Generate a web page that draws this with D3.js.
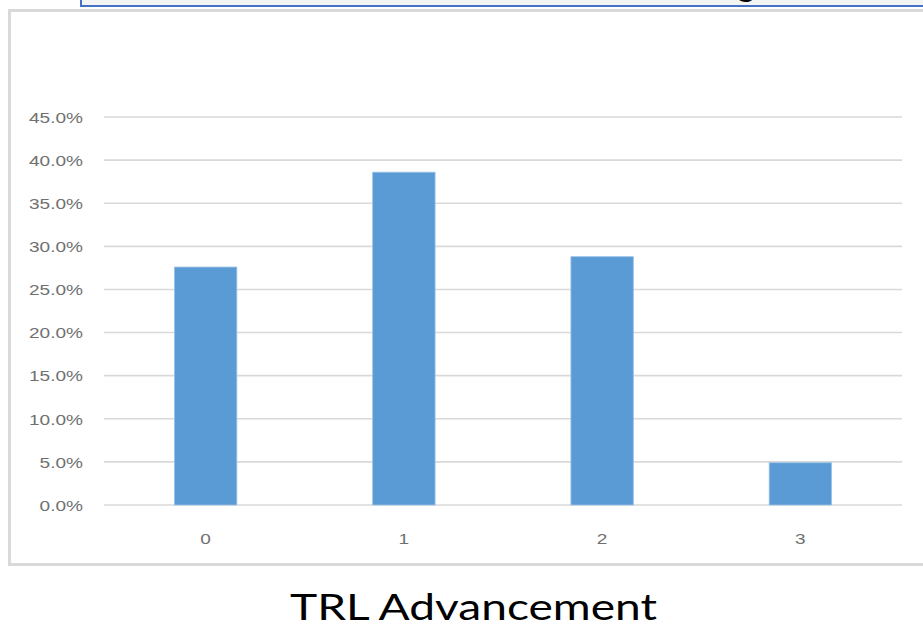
<!DOCTYPE html>
<html>
<head>
<meta charset="utf-8">
<script src="https://cdn.jsdelivr.net/npm/d3@7"></script>
<style>
  html, body { margin: 0; padding: 0; background: #ffffff; }
  svg { display: block; }
</style>
</head>
<body>
<svg id="chart" width="923" height="634"></svg>
<script>
// ---- data ----
const categories = ["0", "1", "2", "3"];
const values = [0.276, 0.386, 0.288, 0.049];
const yTicks = [0, 0.05, 0.10, 0.15, 0.20, 0.25, 0.30, 0.35, 0.40, 0.45];
const chartTitle = "TRL Advancement";

const svg = d3.select("#chart");
const stretch = 1.27;

// partially visible box at the very top
svg.append("rect")
  .attr("x", 81).attr("y", -20)
  .attr("width", 900).attr("height", 26)
  .attr("fill", "#f4f4f4")
  .attr("stroke", "#4472c4").attr("stroke-width", 2);
svg.append("text")
  .attr("x", 746).attr("y", -4)
  .attr("text-anchor", "middle")
  .attr("font-family", "Lato, 'Open Sans', sans-serif")
  .attr("font-size", 36)
  .attr("fill", "#000")
  .text("g");

// chart frame
svg.append("rect")
  .attr("x", 9.5).attr("y", 10.5)
  .attr("width", 940).attr("height", 554)
  .attr("fill", "#ffffff")
  .attr("stroke", "#d9d9d9").attr("stroke-width", 3);

const plot = { left: 104, right: 902, top: 117, bottom: 505 };

const x = d3.scaleBand()
  .domain(categories)
  .range([plot.left, plot.right])
  .paddingInner(0.685)
  .paddingOuter(0.355);

const y = d3.scaleLinear()
  .domain([0, 0.45])
  .range([plot.bottom, plot.top]);

// gridlines
svg.append("g")
  .selectAll("line")
  .data(yTicks)
  .join("line")
  .attr("x1", plot.left).attr("x2", plot.right)
  .attr("y1", d => y(d)).attr("y2", d => y(d))
  .attr("stroke", "#d9d9d9").attr("stroke-width", 1.6);

// bars
svg.append("g")
  .selectAll("rect")
  .data(values)
  .join("rect")
  .attr("x", (d, i) => x(categories[i]))
  .attr("y", d => y(d))
  .attr("width", x.bandwidth())
  .attr("height", d => y(0) - y(d))
  .attr("fill", "#5b9bd5")
  .attr("stroke", "#9cc3e6").attr("stroke-width", 0.8);

// y axis
const yAxis = d3.axisLeft(y)
  .tickValues(yTicks)
  .tickFormat(d3.format(".1%"))
  .tickSize(0)
  .tickPadding(0);
const gy = svg.append("g")
  .attr("transform", `translate(83,0)`)
  .call(yAxis);
gy.select(".domain").remove();
gy.selectAll("text")
  .attr("font-family", "Liberation Sans, Arial, sans-serif")
  .attr("font-size", 15)
  .attr("fill", "#707070")
  .attr("dy", "0.35em");

// x axis
const xAxis = d3.axisBottom(x).tickSize(0).tickPadding(0);
const gx = svg.append("g")
  .attr("transform", `translate(0,${plot.bottom})`)
  .call(xAxis);
gx.select(".domain").remove();
gx.selectAll("text")
  .attr("font-family", "Liberation Sans, Arial, sans-serif")
  .attr("font-size", 15)
  .attr("fill", "#707070")
  .attr("dy", 0)
  .attr("y", 39);

// horizontal stretch of tick labels, like the reference
svg.selectAll(".tick text").each(function () {
  const len = this.getComputedTextLength();
  d3.select(this)
    .attr("textLength", len * stretch)
    .attr("lengthAdjust", "spacingAndGlyphs");
});

// title below chart
svg.append("text")
  .attr("x", 473.5).attr("y", 620)
  .attr("text-anchor", "middle")
  .attr("font-family", "Lato, 'Open Sans', sans-serif")
  .attr("font-size", 36)
  .attr("fill", "#000")
  .attr("textLength", 367)
  .attr("lengthAdjust", "spacingAndGlyphs")
  .text(chartTitle);
</script>
</body>
</html>
